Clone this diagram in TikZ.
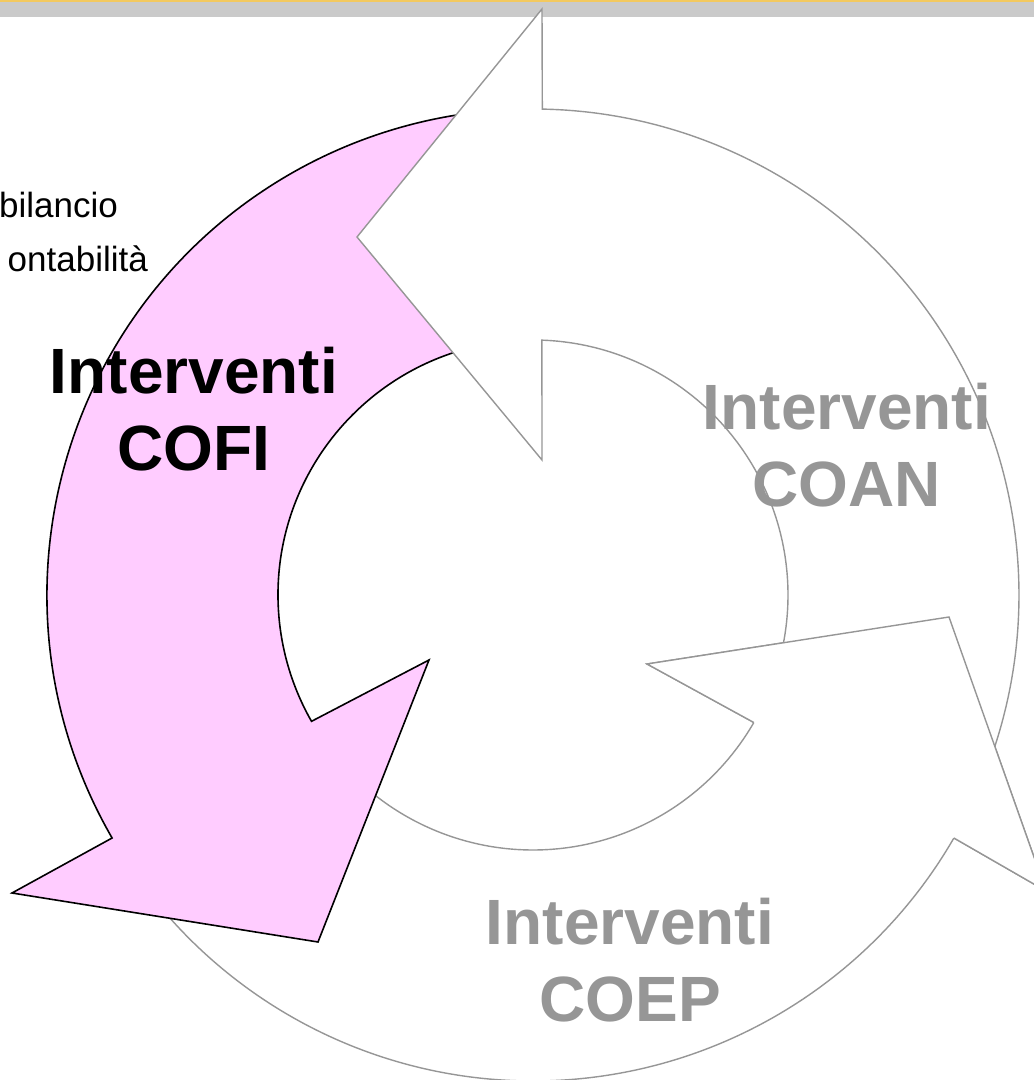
\documentclass[tikz,border=0pt]{standalone}
\usepackage{fontspec}
\setmainfont{Liberation Sans}
\definecolor{pinkfill}{HTML}{FFCCFF}
\definecolor{linegray}{HTML}{969696}
\definecolor{textgray}{HTML}{969696}
\definecolor{bandgray}{HTML}{CACACA}
\definecolor{bandyellow}{HTML}{F3C95F}
\begin{document}
\begin{tikzpicture}[x=1pt,y=1pt,
  grayarrow/.style={fill=white, draw=linegray, line width=1.4pt},
  pinkarrow/.style={fill=pinkfill, draw=black, line width=1.6pt},
  bigtext/.style={font=\fontsize{64}{77}\selectfont\bfseries, inner sep=0pt, anchor=base},
  smalltext/.style={font=\fontsize{35}{42}\selectfont, inner sep=0pt, anchor=base east}]
\useasboundingbox (0,0) rectangle (1034,1080);
\clip (0,0) rectangle (1034,1080);
% top band
\fill[bandgray] (0,1063) rectangle (1034,1078);
\fill[bandyellow] (0,1078) rectangle (1034,1080);
% geometry
\coordinate (C) at (533,485);
\coordinate (O1) at (542,1071);
\coordinate (I1) at (542,620);
\coordinate (T1) at (357,843);
\coordinate (O2) at (12,187);
\coordinate (I2) at (429,420);
\coordinate (T2) at (318,138);
\coordinate (O3) at (1046,189);
\coordinate (I3) at (647,416);
\coordinate (T3) at (949,463);
% COEP arrow
\path[grayarrow] ([shift={(215:255)}]C) arc[start angle=215, end angle=330, radius=255]
  -- (I3) -- (T3) -- (O3) -- ([shift={(330:486)}]C)
  arc[start angle=330, end angle=215, radius=486] -- cycle;
% COFI arrow
\path[pinkarrow] ([shift={(94:255)}]C) arc[start angle=94, end angle=209.7, radius=255]
  -- (I2) -- (T2) -- (O2) -- ([shift={(210:486)}]C)
  arc[start angle=210, end angle=94, radius=486] -- cycle;
% COAN arrow
\path[grayarrow] ([shift={(-25:255)}]C) arc[start angle=-25, end angle=88, radius=255]
  -- (I1) -- (T1) -- (O1) -- ([shift={(88.9:486)}]C)
  arc[start angle=88.9, end angle=-25, radius=486] -- cycle;
% COEP head on top of COAN tail
\path[grayarrow] ([shift={(330:486)}]C) -- (O3) -- (T3) -- (I3) -- ([shift={(330:255)}]C);
% texts
\node[smalltext] (bil) at (118,862) {bilancio};
\node[smalltext] (cont) at (148,808) {ontabilità};
\node[bigtext] (cofi1) at (194,686) {Interventi};
\node[bigtext] (cofi2) at (194,609) {COFI};
\node[bigtext, text=textgray] (coan1) at (847,650) {Interventi};
\node[bigtext, text=textgray] (coan2) at (847,573) {COAN};
\node[bigtext, text=textgray] (coep1) at (630,135) {Interventi};
\node[bigtext, text=textgray] (coep2) at (630,58) {COEP};
\end{tikzpicture}
\end{document}
